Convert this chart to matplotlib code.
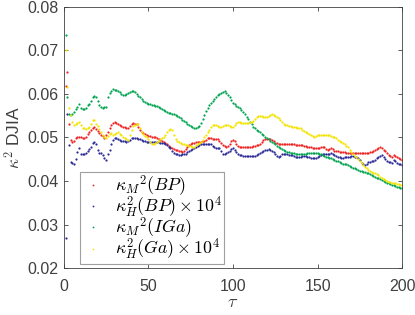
import numpy as np
import matplotlib
matplotlib.use("Agg")
import matplotlib.pyplot as plt

plt.rcParams['font.family'] = ['Liberation Sans', 'DejaVu Sans']
plt.rcParams['mathtext.fontset'] = 'cm'

tau = np.arange(1, 201)

# kappa_M^2 (BP)
red_bp = [
    0.0619, 0.0651, 0.0531, 0.0494, 0.0490, 0.0492, 0.0499, 0.0501, 0.0500, 0.0500,
    0.0499, 0.0499, 0.0501, 0.0508, 0.0513, 0.0518, 0.0522, 0.0524, 0.0520, 0.0515,
    0.0510, 0.0506, 0.0503, 0.0499, 0.0506, 0.0513, 0.0522, 0.0529, 0.0534, 0.0535,
    0.0533, 0.0530, 0.0528, 0.0526, 0.0525, 0.0523, 0.0522, 0.0522, 0.0526, 0.0531,
    0.0533, 0.0532, 0.0530, 0.0524, 0.0517, 0.0513, 0.0510, 0.0508, 0.0506, 0.0504,
    0.0503, 0.0502, 0.0501, 0.0500, 0.0499, 0.0497, 0.0495, 0.0492, 0.0490, 0.0487,
    0.0484, 0.0481, 0.0478, 0.0476, 0.0474, 0.0472, 0.0471, 0.0469, 0.0468, 0.0467,
    0.0470, 0.0474, 0.0478, 0.0482, 0.0485, 0.0487, 0.0488, 0.0489, 0.0489, 0.0490,
    0.0490, 0.0491, 0.0492, 0.0495, 0.0499, 0.0499, 0.0498, 0.0497, 0.0497, 0.0497,
    0.0496, 0.0492, 0.0488, 0.0483, 0.0480, 0.0478, 0.0480, 0.0486, 0.0492, 0.0494,
    0.0492, 0.0486, 0.0480, 0.0479, 0.0479, 0.0478, 0.0478, 0.0478, 0.0478, 0.0479,
    0.0479, 0.0480, 0.0481, 0.0482, 0.0483, 0.0484, 0.0489, 0.0494, 0.0497, 0.0497,
    0.0497, 0.0496, 0.0494, 0.0491, 0.0488, 0.0487, 0.0486, 0.0486, 0.0485, 0.0485,
    0.0485, 0.0485, 0.0485, 0.0484, 0.0484, 0.0484, 0.0483, 0.0483, 0.0483, 0.0483,
    0.0482, 0.0481, 0.0480, 0.0479, 0.0478, 0.0478, 0.0477, 0.0476, 0.0476, 0.0476,
    0.0477, 0.0478, 0.0479, 0.0478, 0.0474, 0.0471, 0.0473, 0.0475, 0.0473, 0.0470,
    0.0469, 0.0468, 0.0467, 0.0467, 0.0466, 0.0466, 0.0465, 0.0465, 0.0464, 0.0464,
    0.0464, 0.0464, 0.0464, 0.0464, 0.0464, 0.0464, 0.0465, 0.0465, 0.0465, 0.0465,
    0.0466, 0.0467, 0.0469, 0.0471, 0.0474, 0.0476, 0.0478, 0.0476, 0.0472, 0.0468,
    0.0464, 0.0460, 0.0457, 0.0456, 0.0460, 0.0458, 0.0455, 0.0454, 0.0451, 0.0448,
]

# kappa_H^2 (BP) x 1e4
blue_bp = [
    0.0269, 0.0554, 0.0483, 0.0444, 0.0441, 0.0439, 0.0451, 0.0466, 0.0475, 0.0462,
    0.0462, 0.0462, 0.0464, 0.0468, 0.0473, 0.0478, 0.0487, 0.0490, 0.0484, 0.0472,
    0.0465, 0.0464, 0.0459, 0.0452, 0.0448, 0.0462, 0.0472, 0.0485, 0.0495, 0.0499,
    0.0498, 0.0497, 0.0495, 0.0493, 0.0492, 0.0491, 0.0490, 0.0492, 0.0495, 0.0498,
    0.0499, 0.0499, 0.0498, 0.0497, 0.0497, 0.0495, 0.0493, 0.0491, 0.0490, 0.0490,
    0.0490, 0.0490, 0.0490, 0.0490, 0.0490, 0.0489, 0.0488, 0.0488, 0.0487, 0.0485,
    0.0482, 0.0479, 0.0476, 0.0468, 0.0464, 0.0462, 0.0461, 0.0460, 0.0460, 0.0461,
    0.0462, 0.0463, 0.0466, 0.0469, 0.0471, 0.0474, 0.0476, 0.0478, 0.0480, 0.0483,
    0.0485, 0.0485, 0.0484, 0.0484, 0.0485, 0.0486, 0.0484, 0.0480, 0.0478, 0.0477,
    0.0476, 0.0475, 0.0468, 0.0462, 0.0463, 0.0465, 0.0467, 0.0470, 0.0474, 0.0476,
    0.0472, 0.0466, 0.0462, 0.0460, 0.0459, 0.0458, 0.0457, 0.0457, 0.0457, 0.0457,
    0.0457, 0.0457, 0.0458, 0.0459, 0.0462, 0.0465, 0.0467, 0.0469, 0.0471, 0.0472,
    0.0473, 0.0472, 0.0470, 0.0467, 0.0462, 0.0457, 0.0455, 0.0458, 0.0461, 0.0462,
    0.0462, 0.0461, 0.0460, 0.0460, 0.0459, 0.0457, 0.0456, 0.0455, 0.0455, 0.0456,
    0.0457, 0.0457, 0.0457, 0.0456, 0.0455, 0.0454, 0.0453, 0.0452, 0.0452, 0.0455,
    0.0458, 0.0460, 0.0461, 0.0462, 0.0462, 0.0463, 0.0463, 0.0464, 0.0463, 0.0460,
    0.0458, 0.0456, 0.0455, 0.0454, 0.0454, 0.0455, 0.0455, 0.0456, 0.0456, 0.0457,
    0.0457, 0.0456, 0.0455, 0.0453, 0.0448, 0.0442, 0.0438, 0.0437, 0.0440, 0.0443,
    0.0444, 0.0445, 0.0446, 0.0449, 0.0453, 0.0456, 0.0458, 0.0460, 0.0456, 0.0450,
    0.0446, 0.0444, 0.0443, 0.0442, 0.0448, 0.0446, 0.0441, 0.0439, 0.0438, 0.0437,
]

# kappa_M^2 (IGa)
green_iga = [
    0.0736, 0.0594, 0.0554, 0.0552, 0.0555, 0.0559, 0.0565, 0.0571, 0.0577, 0.0568,
    0.0566, 0.0566, 0.0568, 0.0575, 0.0578, 0.0584, 0.0592, 0.0595, 0.0593, 0.0583,
    0.0575, 0.0571, 0.0568, 0.0569, 0.0571, 0.0594, 0.0603, 0.0607, 0.0611, 0.0610,
    0.0608, 0.0606, 0.0604, 0.0601, 0.0598, 0.0597, 0.0600, 0.0603, 0.0605, 0.0606,
    0.0607, 0.0604, 0.0600, 0.0596, 0.0592, 0.0589, 0.0585, 0.0582, 0.0580, 0.0578,
    0.0576, 0.0575, 0.0574, 0.0573, 0.0572, 0.0570, 0.0567, 0.0565, 0.0563, 0.0561,
    0.0559, 0.0557, 0.0556, 0.0555, 0.0554, 0.0552, 0.0549, 0.0546, 0.0544, 0.0541,
    0.0538, 0.0535, 0.0532, 0.0529, 0.0526, 0.0523, 0.0522, 0.0521, 0.0523, 0.0527,
    0.0534, 0.0543, 0.0552, 0.0560, 0.0568, 0.0575, 0.0580, 0.0585, 0.0589, 0.0593,
    0.0597, 0.0600, 0.0603, 0.0605, 0.0606, 0.0603, 0.0598, 0.0592, 0.0586, 0.0580,
    0.0576, 0.0573, 0.0570, 0.0567, 0.0563, 0.0558, 0.0553, 0.0548, 0.0542, 0.0536,
    0.0530, 0.0525, 0.0521, 0.0518, 0.0515, 0.0512, 0.0508, 0.0505, 0.0502, 0.0499,
    0.0496, 0.0493, 0.0490, 0.0487, 0.0484, 0.0481, 0.0478, 0.0476, 0.0473, 0.0471,
    0.0469, 0.0467, 0.0466, 0.0465, 0.0464, 0.0464, 0.0463, 0.0463, 0.0462, 0.0462,
    0.0462, 0.0463, 0.0463, 0.0464, 0.0464, 0.0464, 0.0464, 0.0464, 0.0464, 0.0464,
    0.0463, 0.0462, 0.0460, 0.0458, 0.0456, 0.0455, 0.0454, 0.0453, 0.0451, 0.0449,
    0.0447, 0.0445, 0.0443, 0.0441, 0.0440, 0.0439, 0.0438, 0.0437, 0.0435, 0.0433,
    0.0431, 0.0429, 0.0427, 0.0425, 0.0424, 0.0422, 0.0421, 0.0420, 0.0419, 0.0418,
    0.0416, 0.0414, 0.0412, 0.0410, 0.0408, 0.0406, 0.0404, 0.0402, 0.0400, 0.0398,
    0.0396, 0.0395, 0.0393, 0.0391, 0.0390, 0.0388, 0.0387, 0.0386, 0.0385, 0.0384,
]

# kappa_H^2 (Ga) x 1e4
yellow_ga = [
    0.0701, 0.0615, 0.0567, 0.0552, 0.0535, 0.0529, 0.0530, 0.0533, 0.0536, 0.0528,
    0.0522, 0.0522, 0.0520, 0.0522, 0.0524, 0.0530, 0.0540, 0.0540, 0.0532, 0.0527,
    0.0520, 0.0512, 0.0506, 0.0500, 0.0499, 0.0503, 0.0507, 0.0510, 0.0506, 0.0508,
    0.0511, 0.0513, 0.0509, 0.0505, 0.0501, 0.0498, 0.0496, 0.0494, 0.0505, 0.0518,
    0.0526, 0.0529, 0.0531, 0.0530, 0.0522, 0.0513, 0.0508, 0.0504, 0.0501, 0.0496,
    0.0490, 0.0484, 0.0485, 0.0488, 0.0490, 0.0493, 0.0496, 0.0499, 0.0502, 0.0506,
    0.0512, 0.0517, 0.0519, 0.0518, 0.0506, 0.0496, 0.0492, 0.0489, 0.0487, 0.0485,
    0.0484, 0.0483, 0.0482, 0.0481, 0.0480, 0.0479, 0.0479, 0.0482, 0.0486, 0.0488,
    0.0489, 0.0495, 0.0500, 0.0506, 0.0512, 0.0518, 0.0523, 0.0528, 0.0529, 0.0528,
    0.0527, 0.0525, 0.0524, 0.0526, 0.0528, 0.0529, 0.0528, 0.0527, 0.0525, 0.0524,
    0.0528, 0.0533, 0.0536, 0.0535, 0.0534, 0.0533, 0.0533, 0.0533, 0.0534, 0.0535,
    0.0536, 0.0538, 0.0542, 0.0546, 0.0549, 0.0550, 0.0549, 0.0548, 0.0547, 0.0548,
    0.0550, 0.0552, 0.0553, 0.0552, 0.0550, 0.0547, 0.0545, 0.0541, 0.0536, 0.0532,
    0.0529, 0.0528, 0.0527, 0.0526, 0.0525, 0.0524, 0.0523, 0.0522, 0.0522, 0.0521,
    0.0518, 0.0515, 0.0512, 0.0510, 0.0507, 0.0505, 0.0503, 0.0502, 0.0503, 0.0505,
    0.0506, 0.0506, 0.0506, 0.0506, 0.0506, 0.0506, 0.0505, 0.0504, 0.0502, 0.0501,
    0.0498, 0.0495, 0.0493, 0.0490, 0.0487, 0.0484, 0.0481, 0.0478, 0.0472, 0.0466,
    0.0462, 0.0458, 0.0455, 0.0450, 0.0445, 0.0441, 0.0437, 0.0433, 0.0429, 0.0425,
    0.0422, 0.0420, 0.0419, 0.0418, 0.0417, 0.0414, 0.0410, 0.0407, 0.0405, 0.0402,
    0.0400, 0.0398, 0.0397, 0.0396, 0.0395, 0.0395, 0.0394, 0.0393, 0.0392, 0.0391,
]

labels = [r'$\kappa_M{}^2(BP)$', r'$\kappa_H^2(BP)\times 10^4$',
          r'$\kappa_M{}^2(IGa)$', r'$\kappa_H^2(Ga)\times 10^4$']
colors = ['#ee2424', '#2c2c96', '#00a34f', '#f2e400']

fig = plt.figure(figsize=(4.15, 3.15), dpi=100)
ax = fig.add_axes([0.154, 0.149, 0.815, 0.829])

for ys, lab, c in zip([red_bp, blue_bp, green_iga, yellow_ga], labels, colors):
    ax.plot(tau, ys, '.', color=c, ms=3.2, mew=0, label=lab)

ax.set_xlim(0, 200)
ax.set_ylim(0.02, 0.08)
ax.set_xticks([0, 50, 100, 150, 200])
ax.set_yticks([0.02, 0.03, 0.04, 0.05, 0.06, 0.07, 0.08])
ax.set_yticklabels(['0.02', '0.03', '0.04', '0.05', '0.06', '0.07', '0.08'])

txt = '#404040'
ax.tick_params(direction='in', length=3, width=0.6, top=True, right=True,
               labelsize=11.5, colors=txt)
ax.tick_params(axis='x', pad=8)
ax.tick_params(axis='y', pad=4)
for s in ax.spines.values():
    s.set_linewidth(0.6)
    s.set_color('#404040')

ax.set_xlabel(r'$\tau$', fontsize=13, color=txt, labelpad=0)
ax.set_ylabel(r'$\kappa^2$ DJIA', fontsize=12.5, color=txt, labelpad=3)

leg = ax.legend(loc='lower left', bbox_to_anchor=(0.047, 0.015), fontsize=12.8,
                frameon=True, fancybox=False, framealpha=1, edgecolor='#a0a0a0',
                markerscale=0.8, handlelength=1.3, handletextpad=0.6,
                borderpad=0.1, labelspacing=-0.22, borderaxespad=0)
leg.get_frame().set_linewidth(0.8)

fig.savefig('out.png', dpi=100)
